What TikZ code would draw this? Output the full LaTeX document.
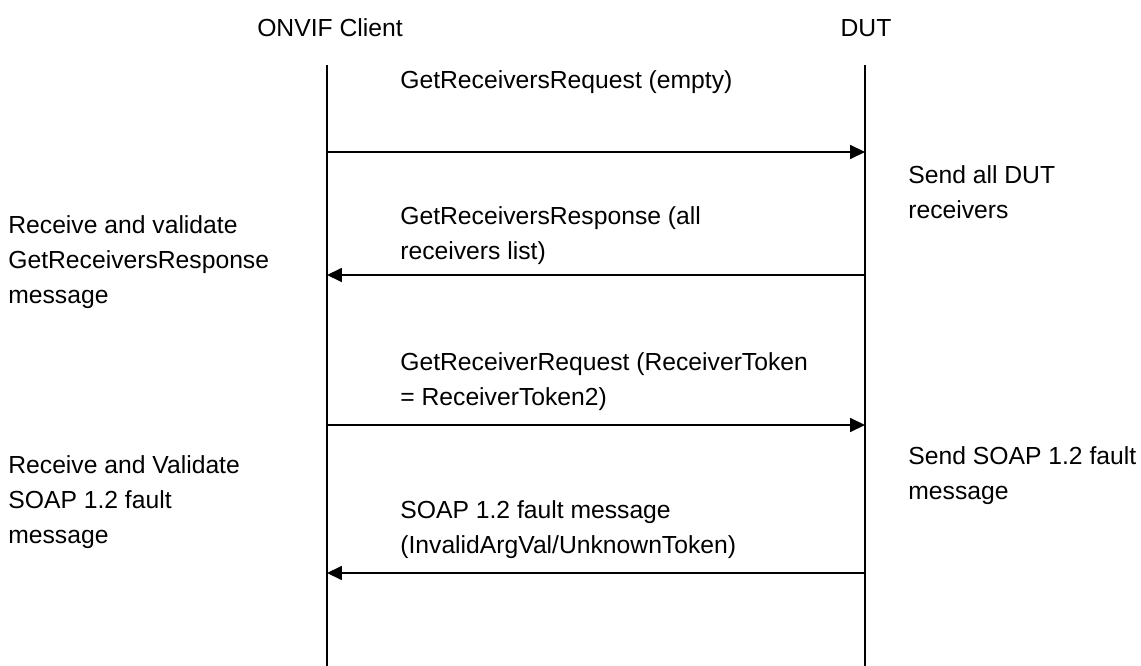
\documentclass[tikz,border=0pt]{standalone}
\usepackage{fontspec}
\setmainfont{Liberation Sans}
\usetikzlibrary{arrows.meta}
\begin{document}
\begin{tikzpicture}[x=0.567pt,y=-0.567pt,
  every node/.style={font=\fontsize{14}{19.8}\selectfont,inner sep=0pt,align=left},
  msg/.style={-{Triangle[length=8.5pt,width=8pt]},line width=0.8pt}]
\useasboundingbox (0,0) rectangle (1141,666);

\node (client) at (330,28) {ONVIF Client};
\node (dut) at (866,28) {DUT};

\draw[line width=1pt] (327,65) coordinate (ctop) -- (327,666) coordinate (cbot);
\draw[line width=1pt] (865,65) coordinate (dtop) -- (865,666) coordinate (dbot);

\coordinate (c1) at (327,152);
\coordinate (d1) at (865,152);
\coordinate (c2) at (327,275);
\coordinate (d2) at (865,275);
\coordinate (c3) at (327,425);
\coordinate (d3) at (865,425);
\coordinate (c4) at (327,573);
\coordinate (d4) at (865,573);

\draw[msg] (c1) -- (d1);
\draw[msg] (d2) -- (c2);
\draw[msg] (c3) -- (d3);
\draw[msg] (d4) -- (c4);

\node[anchor=west] (req1) at (400,82) {GetReceiversRequest (empty)};
\node[anchor=west] (resp1) at (400,236) {GetReceiversResponse (all\\receivers list)};
\node[anchor=west] (req2) at (400,382) {GetReceiverRequest (ReceiverToken\\= ReceiverToken2)};
\node[anchor=west] (fault) at (400,530) {SOAP 1.2 fault message\\(InvalidArgVal/UnknownToken)};

\node[anchor=west] (check1) at (8,262) {Receive and validate\\GetReceiversResponse\\message};
\node[anchor=west] (check2) at (8,502) {Receive and Validate\\SOAP 1.2 fault\\message};

\node[anchor=west] (send1) at (908,192) {Send all DUT\\receivers};
\node[anchor=west] (send2) at (908,476) {Send SOAP 1.2 fault\\message};
\end{tikzpicture}
\end{document}
